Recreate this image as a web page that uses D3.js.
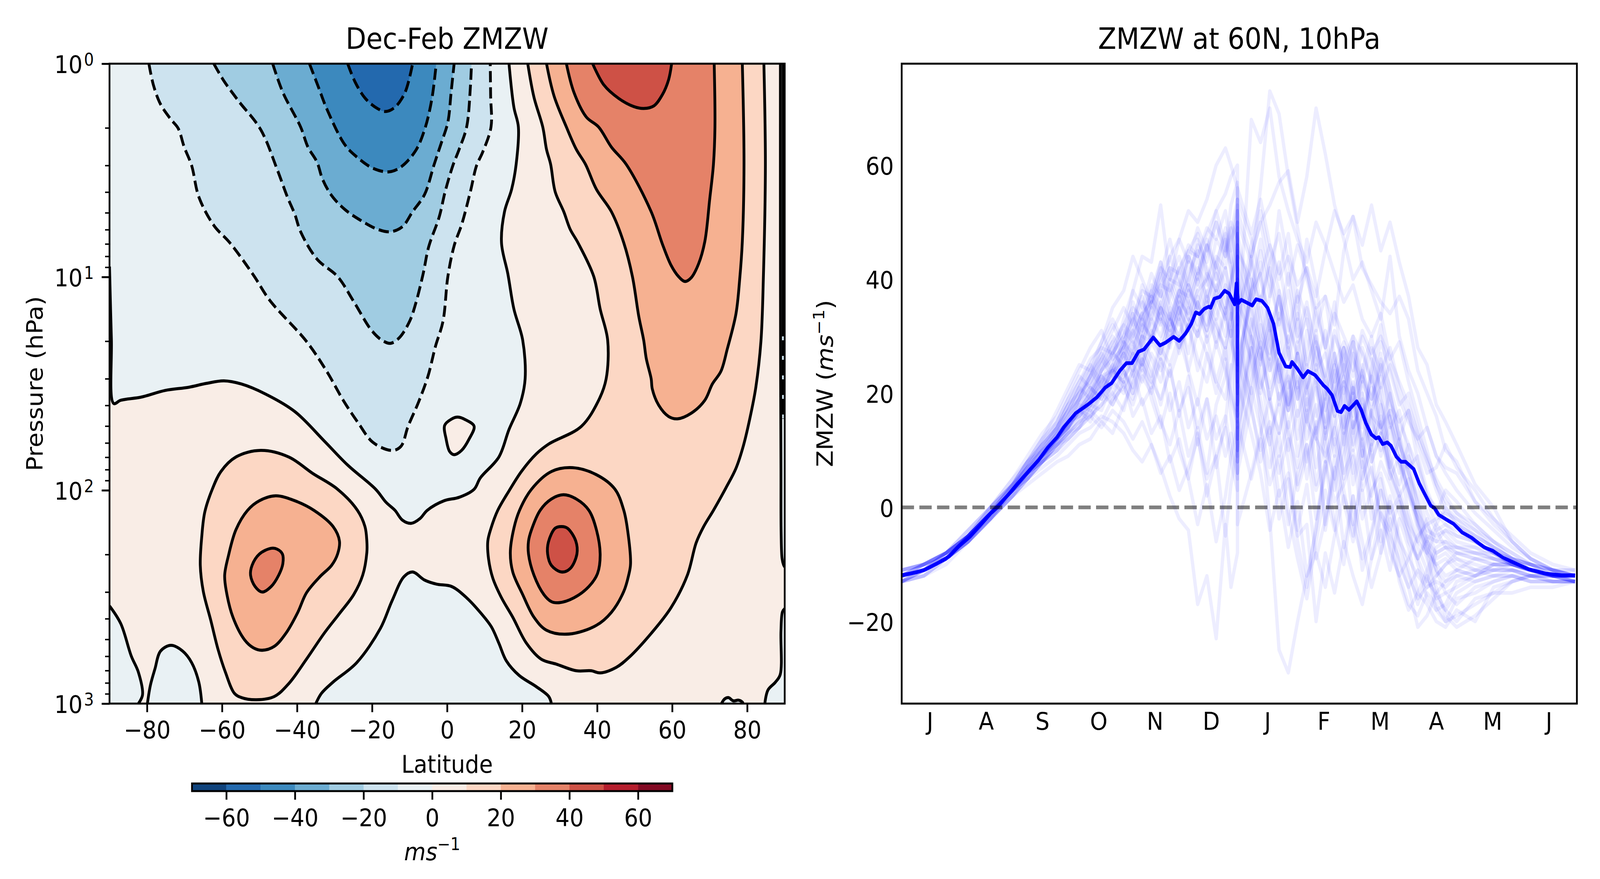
<!DOCTYPE html>
<html><head><meta charset="utf-8">
<script src="https://cdn.jsdelivr.net/npm/d3@7"></script>
<style>html,body{margin:0;padding:0;background:#fff;overflow:hidden;width:100%;height:100%}svg{display:block;width:100vw;height:100vh}text{font-family:"DejaVu Sans";fill:#000}</style>
</head><body><svg id="c" viewBox="0 0 4500 2250" preserveAspectRatio="none"></svg>
<script>
// ---------- tick labels ----------
const latTicks=[-80,-60,-40,-20,0,20,40,60,80];
const pressureMajor=[1,10,100,1000];
const pressureMinor=[2,3,4,5,6,7,8,9,20,30,40,50,60,70,80,90,200,300,400,500,600,700,800,900];
const monthLabels=["J","A","S","O","N","D","J","F","M","A","M","J"];
const windTicks=[-20,0,20,40,60];
const barTicks=[-60,-40,-20,0,20,40,60];
const barEdges=[-70,-60,-50,-40,-30,-20,-10,0,10,20,30,40,50,60,70];
const barColors=["#0f437c","#2369ae","#3c89be","#6bacd1","#a0cce2","#cde3ef","#e9f1f4","#f9ede6","#fcd7c4","#f6b191","#e58268","#ce5146","#b51d2d","#820923"];

// ---------- left panel contours: [latitude, log10(pressure hPa)] ----------
const zeroNorth=[[-90,.951],[-89.5,1.29],[-88.9,1.593],[-87,1.578],[-81.5,1.563],[-75.2,1.532],[-68.9,1.517],[-64.2,1.499],[-59.5,1.487],[-54.8,1.502],[-48.5,1.548],[-40.6,1.631],[-32.8,1.768],[-26.5,1.882],[-19,1.996],[-16.3,2.056],[-13.9,2.094],[-11.9,2.14],[-9.6,2.155],[-7.2,2.132],[-5.3,2.094],[-.8,2.049],[3.2,2.033],[7.2,1.995],[8.85,1.942],[13.8,1.844],[16.5,1.715],[19.5,1.593],[20.8,1.477],[20.15,1.296],[17.8,1.15],[16.2,.986],[14.5,.84],[15.3,.694],[17.2,.589],[18.4,.472],[19,.297],[17.8,.204],[16.5,0]];
const zeroSouth=[[-35,3],[-33.5,2.952],[-30.4,2.899],[-24.1,2.808],[-17.8,2.648],[-14.7,2.519],[-11.5,2.405],[-9.2,2.383],[-6,2.421],[-2.8,2.44],[1.2,2.451],[5.2,2.504],[9.2,2.58],[11.8,2.64],[13.8,2.717],[15.8,2.8],[19.2,2.868],[23.8,2.921],[27.1,2.967],[27.8,3]];
const zeroArch=[[-79.9,3],[-79.1,2.914],[-77.9,2.838],[-76.4,2.754],[-73.6,2.727],[-70.5,2.754],[-68.1,2.808],[-66.2,2.899],[-65.4,3]];
const zeroCornerSW=[[-90,2.542],[-87,2.625],[-84.2,2.777],[-82.3,2.853],[-81.2,2.959],[-82.3,3]];
const zeroCornerSE=[[84.7,3],[85.55,2.936],[87.5,2.9],[88.8,2.864],[89,2.661],[89.4,2.57],[90,2.555]];
const zeroWiggle=[[73.15,3],[74,2.978],[75,2.972],[76.3,2.987],[77.7,2.984],[78.7,2.993],[78.9,3]];
const zeroIsland=[[-.66,1.696],[1.2,1.666],[2.86,1.657],[4.85,1.669],[7.2,1.7],[5.85,1.76],[3.86,1.813],[1.87,1.833],[.67,1.818],[-.26,1.76]];
const zeroPole=[[88.85,0],[88.85,.8],[88.9,1.4],[89,1.9],[89.05,2.2],[89.3,2.32],[89.7,2.35],[90,2.36]];
const neg10Pole=[[89.6,0],[89.6,1.665],[90,1.67]];
const poleCrowded=[[89.6,0],[89.6,1.205]];
const poleDashed=[[89.6,1.205],[89.6,1.665]];
const neg10=[[-79.5,0],[-78.3,.10],[-76.4,.19],[-73.6,.262],[-71.7,.303],[-70.1,.39],[-68.1,.478],[-66.2,.624],[-62.2,.758],[-57.9,.84],[-51.6,.992],[-47.3,1.109],[-37.5,1.302],[-32,1.445],[-27.7,1.578],[-23.7,1.684],[-19.8,1.775],[-14.7,1.813],[-12.3,1.794],[-10.4,1.7],[-7.6,1.586],[-5.1,1.465],[-3.1,1.325],[-1.1,1.208],[.2,.998],[1.9,.852],[3.9,.753],[6.2,.6],[7.85,.478],[9.5,.414],[11.7,.297],[11.6,.15],[11.5,0]];
const neg20=[[-62.2,0],[-59.5,.081],[-55.6,.175],[-49.7,.309],[-45.3,.496],[-42.6,.624],[-40.6,.706],[-39.05,.788],[-34.7,.916],[-29.2,.998],[-24.9,1.115],[-20.2,1.249],[-17.4,1.296],[-15.1,1.311],[-12.7,1.284],[-10,1.208],[-8.4,1.126],[-6.4,.986],[-4.9,.858],[-2.1,.718],[-.54,.601],[1.53,.478],[3.2,.402],[5.2,.297],[6.2,.11],[6.5,0]];
const neg30=[[-46.5,0],[-43.8,.134],[-39.05,.297],[-37.1,.391],[-34.7,.461],[-33.2,.542],[-30.8,.618],[-27.3,.683],[-23,.735],[-18.6,.776],[-15.1,.788],[-11.9,.764],[-9.2,.694],[-6,.613],[-3.45,.472],[-1.46,.367],[.2,.274],[1.07,.134],[1.87,0]];
const neg40=[[-36.7,0],[-34.3,.11],[-32,.215],[-27.3,.379],[-24.1,.437],[-19.8,.49],[-15.5,.507],[-12.3,.484],[-8.4,.408],[-6,.309],[-4.1,.169],[-2.9,0]];
const neg50=[[-26.5,0],[-24.5,.087],[-21.8,.163],[-18.6,.21],[-16.3,.224],[-13.9,.204],[-11.2,.134],[-9.2,0]];
const pos10East=[[21.5,0],[23.15,.157],[25.5,.297],[26.5,.402],[27.6,.472],[28.8,.6],[31.1,.694],[32.8,.776],[34.9,.84],[39.1,.998],[40.8,1.15],[42.8,1.296],[42.4,1.477],[40.4,1.578],[35.8,1.7],[27.1,1.783],[23.8,1.829],[19.8,1.912],[16.5,2.003],[13.5,2.094],[11.7,2.178],[10.85,2.238],[11.05,2.322],[12.2,2.413],[14.5,2.504],[17.5,2.595],[21.15,2.717],[25.1,2.792],[29.1,2.815],[34.45,2.846],[38.4,2.846],[40.8,2.856],[45.1,2.83],[48.4,2.785],[54.4,2.671],[59.7,2.55],[64.05,2.398],[66.4,2.246],[68.4,2.17],[71,2.094],[74.35,1.988],[77,1.897],[79,1.79],[81,1.639],[82.3,1.517],[83.66,1.302],[84.3,1.01],[84.85,.472],[84.45,0]];
const pos10South=[[-49.7,1.813],[-42.2,1.844],[-35.9,1.92],[-29.2,1.995],[-23.9,2.094],[-21.9,2.17],[-21.4,2.238],[-21.4,2.292],[-22.5,2.398],[-24.9,2.489],[-28.8,2.58],[-32.8,2.671],[-37.5,2.792],[-42.2,2.906],[-46.1,2.967],[-50.8,2.982],[-54.8,2.972],[-56.7,2.952],[-59.1,2.853],[-61.05,2.747],[-63,2.61],[-65,2.474],[-65.8,2.352],[-65.4,2.216],[-64.6,2.102],[-62.6,1.995],[-60.3,1.912],[-56.3,1.844]];
const pos20South=[[-45.7,2.026],[-40.6,2.049],[-35.5,2.094],[-30.4,2.17],[-28.7,2.238],[-29.2,2.299],[-30.8,2.352],[-33.9,2.405],[-37.5,2.481],[-39.8,2.572],[-43,2.671],[-46.1,2.732],[-49.3,2.75],[-51.6,2.739],[-54,2.701],[-57.1,2.595],[-58.85,2.474],[-59.3,2.398],[-58.3,2.307],[-56.3,2.185],[-53.2,2.094],[-50.05,2.049]];
const pos30South=[[-46.9,2.272],[-45.3,2.276],[-43.9,2.299],[-43.8,2.345],[-44.9,2.398],[-46.9,2.451],[-49.3,2.477],[-51.2,2.451],[-52.4,2.398],[-52,2.352],[-50.05,2.299]];
const pos20East=[[26.5,0],[28.5,.151],[31.8,.297],[34.45,.402],[36.9,.472],[39.8,.589],[43.8,.694],[47.1,.84],[49.4,.998],[51.1,1.185],[52.4,1.296],[53.1,1.383],[54.4,1.477],[54.7,1.525],[56.4,1.601],[59.05,1.654],[61.4,1.665],[65.05,1.639],[68.7,1.578],[70.7,1.502],[73,1.442],[74.7,1.337],[77,1.173],[78,1.01],[78.7,.834],[79.15,.472],[78.7,0]];
const pos30East=[[31.8,0],[33.8,.134],[37.1,.25],[40.4,.297],[43.8,.391],[47.75,.472],[54.4,.694],[57.4,.846],[59.7,.945],[61.7,.998],[63.4,1.021],[65.05,1.004],[67,.94],[68.7,.834],[70,.636],[71,.472],[71.4,.297],[71.2,0]];
const pos40East=[[38.8,0],[41.8,.1],[45.75,.163],[49.75,.201],[52.4,.21],[55.1,.198],[57.4,.145],[59.05,.075],[59.85,0]];
const pos20Mid=[[33.45,1.894],[39.8,1.927],[44.75,1.995],[47.1,2.094],[48.1,2.185],[48.9,2.345],[48.4,2.398],[47.1,2.474],[43.8,2.572],[39.8,2.633],[32.45,2.674],[26.5,2.656],[23.15,2.595],[20.15,2.489],[17.5,2.383],[16.85,2.292],[17.8,2.178],[19.3,2.094],[22.5,1.995],[27.8,1.912]];
const pos30Mid=[[31,2.021],[34.45,2.041],[37.8,2.094],[39.8,2.185],[40.8,2.299],[40.1,2.39],[37.8,2.451],[33.8,2.504],[29.8,2.527],[27.8,2.522],[25.8,2.489],[23.15,2.398],[21.7,2.299],[21.7,2.238],[22.5,2.185],[24.8,2.094],[27.8,2.041]];
const pos40Mid=[[30.5,2.17],[32.1,2.178],[34.3,2.238],[34.6,2.299],[32.8,2.367],[30.5,2.383],[27.8,2.352],[26.8,2.299],[27,2.243],[28.8,2.178]];

// ---------- right panel: ensemble-mean line ----------
const meanDays=[.4,7.8,12.7,18.8,25.6,31,37,42,48,52,57,63,69,74,79,84,87.5,94,97.5,101,105.5,110,113.5,118,121.5,124.5,128,131,136,139.6,142.7,147,150,153.5,156.6,159,161,163.5,166,167,169,172,174.6,177,180,181,182,183.6,186,189.5,191.6,194.8,197.8,201,204,207.6,210,211,213.7,217,219.6,223.5,226,228,230,232.6,235.6,237.5,239.4,241.8,246,248.4,250.9,253.9,256.4,257.9,260,262.5,264.5,267.4,270,272.4,276.8,279.8,283.6,286,288,290.3,295.3,298.4,303,308,311.6,315,319.5,325,331,338.6,348,356.8,364];
const meanWind=[-11.85,-11.4,-10.9,-9.9,-8.6,-6.8,-5.1,-3.3,-1.1,.1,2,4.3,6.5,8.3,10.5,12.3,14,16.5,17.3,18.1,19.3,21,21.8,24,25.3,25.3,27.3,27.7,29.8,28.4,28.9,29.9,29.2,30.5,32.2,34.2,33.9,34.8,35.2,35,36.6,36.9,38,37.5,35.6,39.3,35.8,36.4,36,35.4,36.5,36.2,35,32.2,27.1,24.7,24.6,25.5,24.4,22.8,23.9,23.2,22.2,21.4,20.8,19.7,16.9,16.7,17.8,17.1,18.6,17.1,14.8,12.8,12.1,12.3,11.1,11.4,10.8,8.9,8,8,6.7,4.2,1.8,.3,-.1,-1.3,-2.3,-2.9,-4.4,-5.3,-6.2,-7,-7.6,-8.8,-9.7,-10.8,-11.6,-11.9,-11.9];

// ---------- right panel: individual years ----------
const memberDays=[0,12,24,36,48,60,68,76,84,90,96,102,108,114,120,125,130,135,140,145,150,155,160,165,170,175,178,181.5,181.5,189,194,199,204,209,214,219,224,229,234,239,244,249,254,259,264,269,274,279,284,289,294,300,310,320,330,340,352,364];
const members=[
[-13,-11,-9,-5,-1,3,7,10,13,16,19,21,24,26,28,31,34,36,39,38,42,45,44,48,52,55,58,60,35,42,56,73,69,58,49,40,34,28,34,30,26,22,28,24,18,15,17,12,8,4,1,-1,-4,-7,-9,-10,-11,-12],
[-11,-10,-8,-5,-1,4,8,12,15,19,22,26,28,27,30,38,44,43,53,40,39,45,48,41,38,42,36,30,52,44,50,41,36,31,38,33,24,27,19,22,18,23,16,14,17,11,7,9,3,-1,-3,-4,-6,-8,-10,-11,-12,-13],
[-12,-11,-9,-6,-2,3,6,9,12,14,17,20,23,24,29,33,38,37,42,40,47,52,50,54,60,63,60,56,28,68,64,70,58,52,47,43,50,46,41,36,39,33,30,34,26,22,18,13,9,5,2,-1,-3,-6,-8,-10,-12,-12],
[-12,-11,-8,-5,-1,4,6,9,12,15,16,19,21,23,26,28,32,30,35,33,38,37,42,39,47,44,50,47,20,44,50,53,57,59,50,58,70,62,53,47,40,43,38,33,44,30,24,20,14,9,6,3,-1,-4,-7,-9,-11,-12],
[-13,-11,-9,-5,-1,3,6,9,11,14,17,19,22,24,25,27,30,29,33,31,36,34,38,40,44,42,47,50,24,38,41,46,40,44,39,42,37,45,52,48,51,46,53,45,50,43,37,28,25,18,15,11,4,0,-6,-9,-11,-11],
[-12,-10,-8,-4,0,5,8,11,14,18,20,23,26,29,32,35,33,39,37,42,41,46,44,49,47,52,45,53,18,40,36,43,48,39,46,41,35,37,32,45,51,42,39,36,34,37,33,24,20,16,10,8,1,-2,-5,-8,-10,-11],
[-12,-11,-9,-6,-2,2,5,7,9,11,13,14,16,15,13,10,8,11,7,2,-2,-4,-17,-12,-23,-3,-14,-8,15,5,12,4,9,-3,6,11,3,8,1,4,9,-2,3,6,-1,2,-3,-6,-8,-10,-9,-11,-12,-10,-11,-12,-13,-13],
[-11,-10,-8,-5,-1,3,6,8,11,13,15,16,18,22,24,20,26,22,28,25,30,24,18,27,22,19,25,10,40,32,15,-2,-25,-29,-20,-12,-8,-14,-5,2,-3,-9,-4,3,-1,-6,-9,-12,-14,-13,-14,-12,-13,-12,-12,-13,-13,-13],
[-13,-12,-9,-6,-2,2,5,8,10,12,14,17,15,19,21,18,23,20,26,17,22,14,19,12,16,9,13,5,32,18,8,14,2,6,-5,-3,-20,-8,-15,-6,-12,-17,-9,-4,-11,-2,-7,-15,-17,-20,-21,-18,-20,-14,-13,-12,-13,-13],
[-12,-11,-9,-5,-1,3,6,9,12,15,18,17,21,24,22,27,24,29,26,31,28,33,30,35,31,28,33,38,14,24,29,21,26,18,23,15,12,9,14,6,10,3,7,-2,-5,-9,-14,-21,-19,-15,-18,-20,-16,-15,-15,-14,-14,-13],
[-12,-11,-9,-5,0,4,7,11,14,17,20,22,25,28,32,30,36,33,39,42,37,44,41,46,40,47,43,52,25,38,47,39,33,41,30,36,27,22,30,26,20,28,22,18,11,8,3,-4,-9,-14,-19,-21,-19,-16,-13,-12,-12,-12],
[-11,-10,-8,-4,0,5,9,13,16,20,24,28,31,26,33,38,35,41,37,44,47,43,49,45,52,46,42,33,48,36,43,31,37,28,34,25,30,21,16,23,14,18,11,15,6,2,5,-3,-7,-12,-10,-9,-11,-12,-12,-13,-13,-13],
[-12,-11,-9,-6,-2,2,5,8,11,13,14,16,18,20,23,25,22,27,24,29,33,27,36,31,38,34,40,44,12,30,26,33,22,28,19,25,16,21,11,17,6,12,2,8,4,-1,-5,-9,-6,-8,-7,-8,-8,-9,-10,-11,-12,-12],
[-13,-11,-9,-5,-1,3,7,10,14,17,21,19,24,27,30,34,31,37,34,40,36,43,39,45,50,44,48,54,30,44,36,42,32,38,29,33,25,31,22,28,20,24,30,19,14,17,9,5,1,-3,-5,-7,-7,-9,-10,-11,-12,-12],
[-12,-10,-8,-5,-1,4,7,10,13,15,18,21,19,23,27,24,29,33,30,35,32,38,35,31,37,33,29,25,45,40,30,26,33,21,27,18,24,13,19,28,16,22,18,26,21,15,11,7,2,0,-2,-3,-5,-7,-9,-11,-12,-12],
[-12,-11,-9,-5,-2,2,6,9,12,14,16,18,17,22,20,24,27,23,29,34,28,32,37,29,33,26,31,20,42,34,25,31,18,24,12,19,7,14,3,11,21,9,26,14,20,12,6,2,-3,-6,-6,-8,-9,-10,-10,-11,-12,-13],
[-12,-11,-9,-5,-1,3,6,9,12,15,17,20,23,21,24,20,25,22,19,24,17,21,14,19,12,16,10,6,26,17,10,15,6,12,3,9,14,19,25,29,24,31,27,30,26,29,22,16,10,4,0,-2,-4,-6,-9,-10,-11,-12],
[-11,-10,-8,-5,-1,3,6,10,13,16,19,22,25,29,26,31,28,35,32,37,42,38,44,36,41,35,39,46,8,22,28,19,13,22,9,17,4,12,20,26,30,27,22,29,24,18,20,14,8,3,-1,-3,-5,-7,-9,-10,-12,-12],
[-13,-12,-9,-6,-2,3,5,8,10,13,15,17,20,24,22,27,25,30,27,33,38,33,40,35,43,48,41,36,16,27,35,24,29,17,22,12,18,8,16,5,13,24,19,27,15,10,2,-2,-7,-10,-12,-11,-12,-11,-11,-12,-12,-13],
[-12,-11,-8,-5,0,4,7,11,15,18,22,25,22,27,31,29,34,38,35,31,36,40,46,42,38,45,49,42,10,28,20,30,37,26,33,21,28,15,24,11,20,7,16,25,19,13,7,-2,-8,-16,-18,-15,-13,-12,-11,-11,-12,-12],
[-12,-11,-9,-6,-1,3,6,8,11,12,14,18,23,20,17,23,28,33,38,33,30,35,31,37,33,39,35,28,50,43,33,27,34,29,37,24,31,19,27,14,22,9,17,21,8,4,9,0,-5,-11,-13,-11,-9,-9,-10,-11,-12,-12],
[-12,-10,-8,-5,-1,3,7,10,12,14,19,24,21,25,29,26,31,36,41,36,33,39,34,30,36,42,37,32,54,47,40,32,24,30,21,27,35,28,20,13,18,25,15,10,16,8,-1,-6,-2,-9,-8,-10,-11,-10,-10,-11,-12,-12],
[-13,-11,-9,-5,-1,3,5,8,11,14,17,15,20,18,22,19,24,21,26,23,28,32,26,22,29,24,20,16,36,30,24,13,18,8,-4,4,-9,-2,7,-7,2,-11,-5,3,-8,-12,-17,-19,-15,-17,-20,-16,-15,-13,-12,-12,-13,-13],
[-12,-11,-9,-5,-1,4,8,11,14,18,21,24,27,24,28,33,30,36,33,28,34,39,35,41,37,33,38,48,22,33,27,19,26,14,21,8,15,-3,9,1,-6,3,-9,-1,-4,-13,-18,-15,-11,-7,-6,-7,-8,-9,-10,-11,-12,-12],
[-12,-11,-9,-5,-1,3,6,9,12,15,16,18,20,22,27,29,25,30,34,29,35,31,36,32,39,34,30,40,18,31,37,29,22,17,24,15,21,12,18,25,14,19,8,13,5,9,3,-1,-4,-5,-4,-6,-7,-8,-10,-11,-11,-12],
[-11,-10,-8,-5,-1,4,8,12,15,19,23,21,26,30,27,32,37,31,36,40,44,39,47,43,50,45,53,57,32,46,52,44,38,32,27,35,29,23,31,24,18,12,17,9,14,6,11,4,-1,-4,-7,-7,-8,-8,-9,-10,-11,-12],
[-12,-11,-9,-6,-2,2,5,9,12,14,17,20,24,27,25,30,34,29,36,32,38,44,40,46,42,49,44,38,56,48,54,46,41,48,36,42,31,37,26,20,27,16,21,13,17,11,6,1,-6,-11,-15,-14,-12,-11,-10,-11,-12,-13],
[-13,-12,-10,-6,-2,3,6,9,11,13,16,19,22,19,24,21,26,31,27,33,30,36,41,37,43,39,35,24,44,35,28,37,43,33,26,20,29,23,16,22,13,20,10,16,7,2,-4,-10,-16,-18,-17,-13,-12,-10,-10,-10,-11,-12],
[-12,-11,-8,-5,-1,3,6,10,13,16,20,23,26,23,28,25,30,35,40,44,39,35,41,47,42,37,33,44,26,36,41,32,24,18,27,22,13,19,9,16,4,10,-2,5,-4,1,-6,-9,-5,-6,-4,-5,-6,-8,-9,-11,-12,-12],
[-12,-10,-9,-5,0,4,8,10,14,17,19,23,28,32,28,36,32,38,43,38,34,41,45,40,35,30,36,12,38,25,17,11,20,13,7,16,22,11,5,14,21,11,6,-1,-7,-12,-9,-5,-3,-2,-1,-2,-5,-7,-9,-10,-12,-12],
[-12,-11,-9,-5,-1,3,6,9,13,15,17,20,24,28,24,28,33,37,33,39,35,31,38,34,29,35,30,34,17,28,21,26,19,23,16,21,25,17,22,28,23,30,26,21,25,19,15,12,14,9,7,6,1,-3,-6,-9,-11,-11],
[-13,-11,-8,-5,-1,3,6,9,12,14,18,21,19,25,29,27,33,29,35,30,37,33,30,36,32,28,34,22,40,29,22,18,13,20,27,17,23,14,20,24,29,23,19,24,28,21,16,11,6,7,11,7,3,-2,-6,-9,-11,-12],
[-12,-11,-9,-5,-1,3,6,8,10,12,14,16,14,17,15,12,15,11,6,9,3,7,12,5,9,14,8,3,22,13,6,-4,3,-7,1,-12,-4,8,-3,-10,2,-6,-14,-8,1,-5,-11,-17,-12,-16,-15,-17,-14,-13,-12,-13,-13,-13],
[-13,-11,-9,-6,-1,3,5,8,11,13,15,18,21,18,22,16,19,13,16,8,12,5,-3,4,-6,2,9,14,-3,6,13,19,9,15,4,11,-2,7,14,21,11,17,8,13,6,1,-4,-9,-13,-15,-13,-12,-11,-11,-11,-12,-12,-13],
[-12,-10,-9,-5,-1,3,7,9,12,14,17,19,22,25,21,24,18,21,15,11,17,9,14,6,18,23,28,32,9,21,14,7,13,-1,-9,-16,-6,3,-4,9,15,5,11,18,9,3,-2,-7,-11,-18,-20,-19,-17,-15,-13,-12,-12,-13],
[-12,-11,-8,-5,-1,4,7,11,14,17,21,25,29,33,29,34,28,24,18,25,16,23,11,19,7,15,24,30,6,18,26,33,24,17,29,21,12,20,27,18,10,16,23,14,7,12,4,-3,-8,-4,-3,-5,-6,-8,-10,-11,-12,-12],
[-11,-10,-8,-4,0,4,8,12,17,21,25,24,29,35,38,44,40,36,43,34,27,32,24,30,22,28,19,15,34,26,19,11,-2,5,-6,-14,-3,6,12,3,-5,8,1,-8,-2,-10,-14,-11,-13,-8,-7,-9,-10,-11,-11,-12,-12,-13],
[-13,-12,-9,-6,-2,2,4,6,8,9,11,12,15,13,18,22,26,19,14,20,10,5,13,2,9,-5,4,11,28,20,32,24,38,27,19,31,22,14,25,17,29,20,12,23,15,8,3,-2,-6,-3,0,-3,-6,-8,-10,-11,-12,-12],
[-12,-11,-9,-5,-1,3,6,9,13,16,19,23,27,31,35,32,39,35,41,47,40,36,32,38,28,34,40,49,21,38,45,37,52,43,33,47,39,28,36,22,30,14,24,32,20,12,17,8,2,-1,3,1,-3,-6,-8,-10,-11,-12],
[-12,-10,-8,-5,-1,3,6,8,12,15,17,16,20,24,27,23,30,26,22,29,35,24,31,27,20,26,16,8,46,37,28,19,25,10,17,5,14,-4,6,13,-3,5,11,-6,2,-7,-12,-16,-14,-12,-10,-8,-9,-10,-10,-11,-12,-12]
];

// ---------- drawing ----------
const svg=d3.select("#c");
const FS=62.5,FT=75,FSUP=43.75,CW=7.8;
const L={x0:308,x1:2207,y0:163,y1:1801}, R={x0:2536,x1:4435,y0:163,y1:1801};
const lat=d3.scaleLinear([-90,90],[L.x0,L.x1]);
const pres=d3.scaleLog([1,1000],[L.y0,L.y1]);
const day=d3.scaleLinear([0,365],[R.x0,R.x1]);
const wind=d3.scaleLinear([-34.4,77.8],[R.y1,R.y0]);
const bar=d3.scaleLinear([-70,70],[540,1891]);
const px=p=>[lat(p[0]),pres(Math.pow(10,p[1]))];

svg.append("clipPath").attr("id","cl").append("rect").attr("x",L.x0).attr("y",L.y0).attr("width",L.x1-L.x0).attr("height",L.y1-L.y0);
svg.append("clipPath").attr("id","cr").append("rect").attr("x",R.x0).attr("y",R.y0).attr("width",R.x1-R.x0).attr("height",R.y1-R.y0);

const gL=svg.append("g").attr("clip-path","url(#cl)");
gL.append("rect").attr("x",L.x0).attr("y",L.y0).attr("width",L.x1-L.x0).attr("height",L.y1-L.y0).attr("fill",barColors[7]);
const open=d3.line().curve(d3.curveCatmullRom.alpha(.5));
const closed=d3.line().curve(d3.curveCatmullRomClosed.alpha(.5));
function region(pts,fill,extra){
  const d=open(pts.map(px))+(extra||[]).map(e=>{const q=px(e);return "L"+q[0]+","+q[1];}).join("")+"Z";
  gL.append("path").attr("d",d).attr("fill",fill);
}
function island(pts,fill){gL.append("path").attr("d",closed(pts.map(px))).attr("fill",fill);}
const neg0=barColors[6];
region(zeroNorth,neg0,[[-90,0]]);
region(zeroSouth,neg0);
region(zeroArch,neg0);
region(zeroCornerSW,neg0,[[-90,3]]);
region(zeroCornerSE,neg0,[[90,3]]);
region(zeroWiggle,neg0);
region(zeroPole,neg0,[[90,0]]);
region(neg10Pole,barColors[5],[[90,0]]);
island(zeroIsland,barColors[7]);
[[neg10,5],[neg20,4],[neg30,3],[neg40,2],[neg50,1]].forEach(a=>region(a[0],barColors[a[1]]));
region(pos10East,barColors[8]);
[[pos10South,8],[pos20South,9],[pos30South,10],[pos20Mid,9],[pos30Mid,10],[pos40Mid,11]].forEach(a=>island(a[0],barColors[a[1]]));
[[pos20East,9],[pos30East,10],[pos40East,11]].forEach(a=>region(a[0],barColors[a[1]]));

function stroke(pts,isClosed,dash){
  gL.append("path").attr("d",(isClosed?closed:open)(pts.map(px))).attr("fill","none").attr("stroke","#000")
    .attr("stroke-width",CW).attr("stroke-linejoin","round").attr("stroke-dasharray",dash||null);
}
[neg10,neg20,neg30,neg40,neg50].forEach(c=>stroke(c,false,"28.9,12.5"));
[zeroNorth,zeroSouth,zeroArch,zeroCornerSW,zeroCornerSE,zeroWiggle,zeroPole,pos10East,pos20East,pos30East,pos40East].forEach(c=>stroke(c,false));
[zeroIsland,pos10South,pos20South,pos30South,pos20Mid,pos30Mid,pos40Mid].forEach(c=>stroke(c,true));
stroke(poleCrowded,false);
stroke(poleDashed,false,"40,10");

function spine(A){svg.append("rect").attr("x",A.x0).attr("y",A.y0).attr("width",A.x1-A.x0).attr("height",A.y1-A.y0).attr("fill","none").attr("stroke","#000").attr("stroke-width",5);}
function styleAxis(g,w){g.select(".domain").remove();g.selectAll("line").attr("stroke","#000").attr("stroke-width",w);g.selectAll("text").attr("font-size",FS).attr("font-family","DejaVu Sans").attr("fill","#000");}
const fmt=v=>String(v).replace("-","\u2212");

svg.append("g").attr("transform",`translate(0,${L.y1})`).call(d3.axisBottom(lat).tickValues(latTicks).tickSize(22).tickPadding(22.6).tickFormat(fmt)).call(g=>styleAxis(g,5));
svg.append("g").attr("transform",`translate(${L.x0},0)`).call(d3.axisLeft(pres).tickValues(pressureMinor).tickSize(12.5).tickFormat("")).call(g=>styleAxis(g,3.75));
const yMaj=svg.append("g").attr("transform",`translate(${L.x0},0)`).call(d3.axisLeft(pres).tickValues(pressureMajor).tickSize(22).tickPadding(22).tickFormat(""));
styleAxis(yMaj,5);
yMaj.selectAll("text").each(function(d){
  const t=d3.select(this).attr("dy","23px").attr("text-anchor","end");
  t.text(null);t.append("tspan").text("10");
  t.append("tspan").attr("font-size",FSUP).attr("dy",-19).attr("dx",4).text(Math.round(Math.log10(d)));
});
spine(L);

const gR=svg.append("g").attr("clip-path","url(#cr)");
const lineM=d3.line().x(p=>day(p[0])).y(p=>wind(p[1])).curve(d3.curveLinear);
members.forEach(m=>{
  gR.append("path").attr("d",lineM(m.map((v,i)=>[memberDays[i],v]))).attr("fill","none").attr("stroke","#00f").attr("stroke-opacity",.07).attr("stroke-width",9.4).attr("stroke-linejoin","round");
});
gR.append("path").attr("d",lineM(meanWind.map((v,i)=>[meanDays[i],v]))).attr("fill","none").attr("stroke","#00f").attr("stroke-width",9.4).attr("stroke-linejoin","round");
gR.append("line").attr("x1",R.x0).attr("x2",R.x1).attr("y1",wind(0)).attr("y2",wind(0)).attr("stroke","#000").attr("stroke-opacity",.5).attr("stroke-width",9.4).attr("stroke-dasharray","34.7,15");

const xM=svg.append("g").attr("transform",`translate(0,${R.y1})`).call(d3.axisBottom(day).tickValues(monthLabels.map((_,i)=>(i+.5)*365/12)).tickSize(0).tickPadding(22.6).tickFormat((_,i)=>monthLabels[i]));
styleAxis(xM,0);
const yW=svg.append("g").attr("transform",`translate(${R.x0},0)`).call(d3.axisLeft(wind).tickValues(windTicks).tickSize(0).tickPadding(22).tickFormat(fmt));
styleAxis(yW,0);yW.selectAll("text").attr("dy","24px");
spine(R);

function label(x,y,t,size,rot){return svg.append("text").attr("x",x).attr("y",y).attr("text-anchor","middle").attr("font-size",size).attr("transform",rot?`rotate(-90 ${x} ${y})`:null).text(t);}
label((L.x0+L.x1)/2,125,"Dec-Feb ZMZW",FT);
label((R.x0+R.x1)/2,125,"ZMZW at 60N, 10hPa",FT);
label((L.x0+L.x1)/2,1978,"Latitude",FS);
label(120,982,"Pressure (hPa)",FS,true);
const yl=label(2342,981.5,"",FS,true);
yl.append("tspan").text("ZMZW (");
yl.append("tspan").attr("font-style","italic").text("ms");
yl.append("tspan").attr("font-size",FSUP).attr("dy",-24).text("\u22121");
yl.append("tspan").attr("dy",24).text(")");

const gB=svg.append("g");
barColors.forEach((c,i)=>gB.append("rect").attr("x",bar(barEdges[i])).attr("width",bar(barEdges[i+1])-bar(barEdges[i])+.5).attr("y",2005.5).attr("height",19.5).attr("fill",c));
gB.append("rect").attr("x",bar(-70)).attr("y",2005.5).attr("width",bar(70)-bar(-70)).attr("height",19.5).attr("fill","none").attr("stroke","#000").attr("stroke-width",5);
svg.append("g").attr("transform","translate(0,2025)").call(d3.axisBottom(bar).tickValues(barTicks).tickSize(22).tickPadding(23.6).tickFormat(fmt)).call(g=>styleAxis(g,5));
const cl=label(1215.5,2202,"",FS);
cl.append("tspan").attr("font-style","italic").text("ms");
cl.append("tspan").attr("font-size",FSUP).attr("dy",-26).text("\u22121");
</script></body></html>
